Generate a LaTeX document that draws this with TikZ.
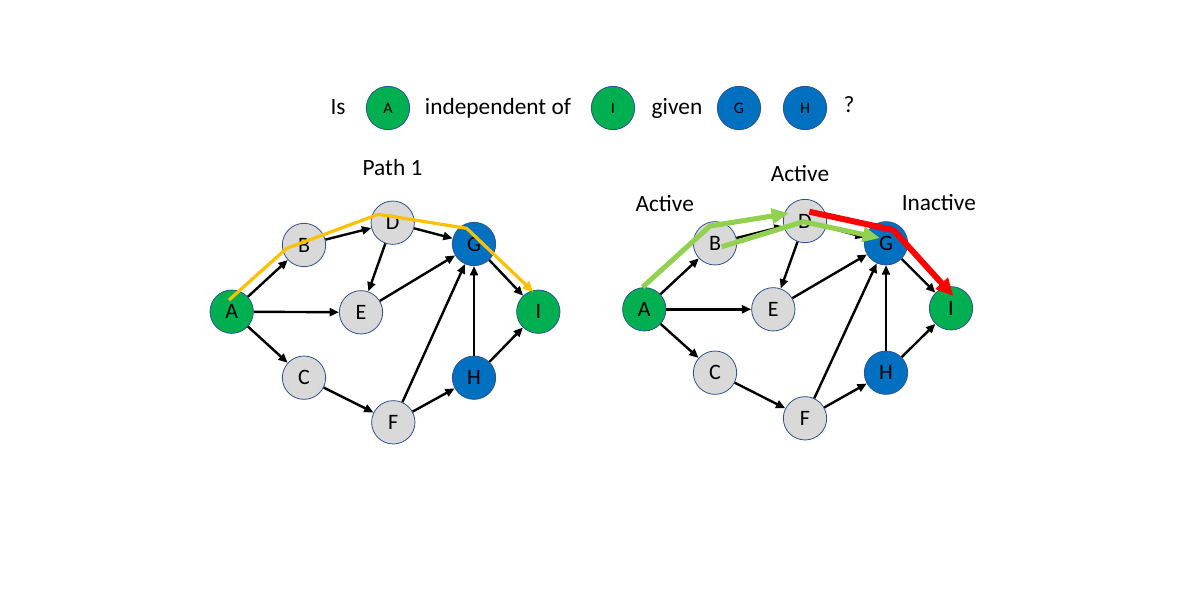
\documentclass[tikz,border=0pt]{standalone}
\usepackage{fontspec}
\setmainfont{Carlito}
\usetikzlibrary{arrows.meta}
\definecolor{pgreen}{HTML}{00B050}
\definecolor{pblue}{HTML}{0070C0}
\definecolor{pgray}{HTML}{D9D9D9}
\definecolor{pline}{HTML}{2F528F}
\definecolor{pyellow}{HTML}{FFC000}
\definecolor{plgreen}{HTML}{92D050}
\definecolor{pred}{HTML}{FF0000}
\begin{document}
\begin{tikzpicture}[x=0.75pt,y=-0.75pt,
  vert/.style={circle, minimum size=32.5pt, inner sep=0pt, draw=pline, line width=0.6pt, font=\fontsize{16.5}{18}\selectfont},
  gnode/.style={vert, fill=pgray},
  grn/.style={vert, fill=pgreen},
  blu/.style={vert, fill=pblue},
  small/.style={font=\fontsize{12}{14}\selectfont},
  edge/.style={line width=1.8pt, -{Triangle[length=7pt,width=6pt]}},
  lbl/.style={font=\fontsize{17.5}{20}\selectfont, anchor=base, inner sep=0pt},
  ypath/.style={draw=pyellow, line width=2.4pt, line join=round, -{Triangle[length=8pt,width=7pt]}},
  gpath/.style={draw=plgreen, line width=3.8pt, line join=round, -{Triangle[length=13pt,width=11pt]}},
  rpath/.style={draw=pred, line width=4.5pt, line join=round, -{Triangle[length=13pt,width=12pt]}},
]
\fill[white] (0,0) rectangle (1200,600);
\useasboundingbox (0,0) rectangle (1200,600);

% title
\node[lbl] (t1) at (338,114) {Is};
\node[grn,small] (tA) at (388,108) {A};
\node[lbl] (t2) at (498,114) {independent of};
\node[grn,small] (tI) at (613,108) {I};
\node[lbl] (t3) at (677,114) {given};
\node[blu,small] (tG) at (739,108) {G};
\node[blu,small] (tH) at (805,108) {H};
\node[lbl] (t4) at (849,112) {?};

% left graph
\node[lbl] (p1) at (392.5,175) {Path 1};
\node[grn]   (LA) at (231.7,311.7) {A};
\node[gnode] (LB) at (304,245) {B};
\node[gnode] (LD) at (392.7,222.7) {D};
\node[blu]   (LG) at (474,244) {G};
\node[gnode] (LE) at (361,312.3) {E};
\node[grn]   (LI) at (538.3,311.7) {I};
\node[gnode] (LC) at (304,377.7) {C};
\node[gnode] (LF) at (393.3,422.3) {F};
\node[blu]   (LH) at (474,377.7) {H};
\foreach \s/\t in {A/B,B/D,D/G,D/E,A/E,E/G,A/C,C/F,F/G,F/H,H/G,G/I,H/I}
  \draw[edge] (L\s) -- (L\t);

\coordinate (y1) at (229,300);
\coordinate (y2) at (286.7,248.3);
\coordinate (y3) at (378.3,214.3);
\coordinate (y4) at (466.7,228.3);
\coordinate (y5) at (533.3,292);
\draw[ypath] (y1) -- (y2) -- (y3) -- (y4) -- (y5);

% right graph
\node[lbl] (act1) at (800,181.7) {Active};
\node[lbl] (act2) at (664.7,211.7) {Active};
\node[lbl] (inact) at (938.8,210) {Inactive};
\node[grn]   (RA) at (644.3,309.3) {A};
\node[gnode] (RB) at (715,243.3) {B};
\node[gnode] (RD) at (805,221) {D};
\node[blu]   (RG) at (886,243.3) {G};
\node[gnode] (RE) at (773.3,309.3) {E};
\node[grn]   (RI) at (951,308.3) {I};
\node[gnode] (RC) at (715,372.7) {C};
\node[gnode] (RF) at (805,418.3) {F};
\node[blu]   (RH) at (886,372.7) {H};
\foreach \s/\t in {A/B,B/D,D/G,D/E,A/E,E/G,A/C,C/F,F/G,F/H,H/G,G/I,H/I}
  \draw[edge] (R\s) -- (R\t);

\coordinate (g1) at (642.7,287);
\coordinate (g2) at (710,226);
\coordinate (g3) at (789,213.3);
\draw[gpath] (g1) -- (g2) -- (g3);
\coordinate (h1) at (721.7,246.7);
\coordinate (h2) at (803.3,221.7);
\coordinate (h3) at (880,238);
\draw[gpath] (h1) -- (h2) -- (h3);
\coordinate (r1) at (809.3,211.7);
\coordinate (r2) at (893.3,230);
\coordinate (r3) at (953.3,296);
\draw[rpath] (r1) -- (r2) -- (r3);
\end{tikzpicture}
\end{document}
